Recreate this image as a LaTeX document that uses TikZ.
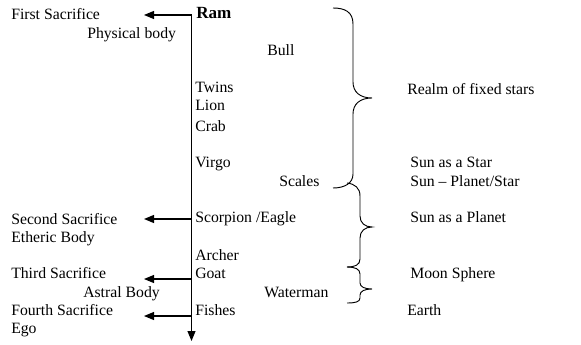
\documentclass[tikz,border=0pt]{standalone}
\usepackage{fontspec}
\setmainfont{Liberation Serif}
\usetikzlibrary{arrows.meta}
\begin{document}
\begin{tikzpicture}[x=0.75pt,y=-0.75pt,
  lbl/.style={anchor=base west,inner sep=0pt,font=\fontsize{11.8}{13}\selectfont},
  axis/.style={line width=0.8pt},
  arr/.style={line width=0.8pt,-{Triangle[length=7.5pt,width=6pt]}},
  brace/.style={line width=0.7pt}]
\useasboundingbox (0,0) rectangle (581,345);
% axis
\coordinate (top) at (191.5,15);
\coordinate (bot) at (191.5,341);
\coordinate (j2) at (191.5,219);
\coordinate (j3) at (191.5,279);
\coordinate (j4) at (191.5,316);
\coordinate (a1) at (144,15);
\coordinate (a2) at (144,219);
\coordinate (a3) at (144,279);
\coordinate (a4) at (144,316);
\draw[arr] (top) -- (bot);
\draw[arr] (top) -- (a1);
\draw[arr] (j2) -- (a2);
\draw[arr] (j3) -- (a3);
\draw[arr] (j4) -- (a4);
% left texts
\node[lbl] (s1) at (11,20) {First Sacrifice};
\node[lbl] (b1) at (87,39) {Physical body};
\node[lbl] (s2) at (11,224) {Second Sacrifice};
\node[lbl] (b2) at (11,243) {Etheric Body};
\node[lbl] (s3) at (11,278) {Third Sacrifice};
\node[lbl] (b3) at (83,297) {Astral Body};
\node[lbl] (s4) at (11,315) {Fourth Sacrifice};
\node[lbl] (b4) at (11,333) {Ego};
% signs
\node[lbl,font=\fontsize{12.8}{14}\selectfont\bfseries] (ram) at (196,19) {Ram};
\node[lbl] (bull) at (267,56) {Bull};
\node[lbl] (twins) at (195,93) {Twins};
\node[lbl] (lion) at (195,111) {Lion};
\node[lbl] (crab) at (195,132) {Crab};
\node[lbl] (virgo) at (195,168) {Virgo};
\node[lbl] (scales) at (279,187) {Scales};
\node[lbl] (scorp) at (195,223) {Scorpion /Eagle};
\node[lbl] (archer) at (195,260) {Archer};
\node[lbl] (goat) at (195,278) {Goat};
\node[lbl] (water) at (264,297) {Waterman};
\node[lbl] (fishes) at (195,315) {Fishes};
% right texts
\node[lbl] (realm) at (407,95) {Realm of fixed stars};
\node[lbl] (sstar) at (410,168) {Sun as a Star};
\node[lbl] (spstar) at (410,187) {Sun -- Planet/Star};
\node[lbl] (splanet) at (410,223) {Sun as a Planet};
\node[lbl] (moon) at (410,278) {Moon Sphere};
\node[lbl] (earth) at (407,315) {Earth};
% braces
\draw[brace] (333,8) .. controls (345,8) and (353,12) .. (353,24)
  -- (353,82) .. controls (353,92) and (360,98) .. (372,98)
  .. controls (360,98) and (353,104) .. (353,114)
  -- (353,174) .. controls (353,183) and (345,188) .. (333,188);
\draw[brace] (347,183) .. controls (355,184) and (360,188) .. (360,196)
  -- (360,216) .. controls (360,223) and (365,227) .. (372,227)
  .. controls (365,227) and (360,231) .. (360,238)
  -- (360,259) .. controls (360,265) and (355,267) .. (347,267);
\draw[brace] (347,267) .. controls (355,267) and (360,269) .. (360,274)
  -- (360,283) .. controls (360,287) and (365,289) .. (372,289)
  .. controls (365,289) and (360,291) .. (360,295)
  -- (360,298) .. controls (360,302) and (355,303) .. (347,303);
\end{tikzpicture}
\end{document}
